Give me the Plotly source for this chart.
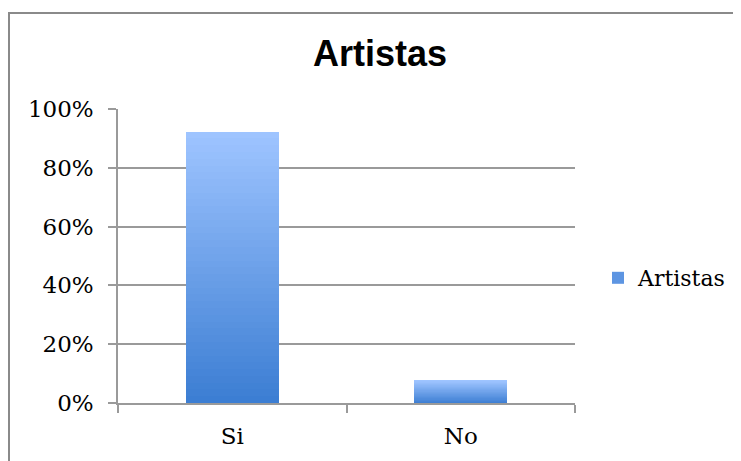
import plotly.graph_objects as go

categories = ["Si", "No"]
values = [0.923, 0.077]
series_name = "Artistas"
tick_vals = [0, 0.2, 0.4, 0.6, 0.8, 1.0]
tick_text = ["0%", "20%", "40%", "60%", "80%", "100%"]

top_rgb = (158, 196, 255)
bottom_rgb = (60, 126, 211)
N = 40

fig = go.Figure()
for i in range(N):
    t = i / (N - 1)
    c = tuple(round(bottom_rgb[k] + (top_rgb[k] - bottom_rgb[k]) * t) for k in range(3))
    fig.add_trace(go.Bar(
        x=categories,
        y=[v / N for v in values],
        marker=dict(color="rgb(%d,%d,%d)" % c, line=dict(width=0)),
        name=series_name,
        legendgroup="a",
        showlegend=(i == N // 3),
        hoverinfo="skip",
    ))

# page is offset by 8px body margin
OFF = 8
W, H = 741, 461
L, T = 118 - OFF, 109 - OFF
pw, ph = 457, 294
R, B = W - L - pw, H - T - ph

fig.update_layout(
    width=W, height=H,
    margin=dict(l=L, r=R, t=T, b=B),
    barmode="stack", bargap=0.593,
    paper_bgcolor="white", plot_bgcolor="white",
    title=dict(text="<b>Artistas</b>", x=(380 - OFF) / W, xanchor="center",
               y=1 - (53 - OFF) / H, yanchor="middle",
               font=dict(family="Liberation Sans, Arial", size=36, color="black")),
    font=dict(family="DejaVu Serif, serif", size=23, color="black"),
    legend=dict(x=(598 - OFF - L) / pw, y=(1 - (278 - OFF - T) / ph), yanchor="middle", xanchor="left",
                font=dict(family="DejaVu Serif, serif", size=22, color="black"),
                bgcolor="rgba(0,0,0,0)"),
    xaxis=dict(showline=True, linecolor="#9a9a9a", linewidth=1.5, ticks="outside",
               tickson="boundaries", ticklen=8, tickcolor="#9a9a9a", tickwidth=1.5,
               showgrid=False, fixedrange=True, ticklabelstandoff=12),
    yaxis=dict(range=[0, 1.0], tickvals=tick_vals, ticktext=tick_text,
               showline=True, linecolor="#9a9a9a", linewidth=1.5, ticks="outside",
               ticklen=8, tickcolor="#9a9a9a", tickwidth=1.5,
               showgrid=True, gridcolor="#9a9a9a", gridwidth=1.5, zeroline=False,
               ticklabelstandoff=10),
    shapes=[dict(type="rect", xref="paper", yref="paper",
                 x0=(8 - OFF + 1 - L) / pw, x1=(W + 5 - L) / pw,
                 y0=-(B + 5) / ph, y1=1 + (T - (13 - OFF)) / ph,
                 line=dict(color="#8a8a8a", width=2), fillcolor="rgba(0,0,0,0)", layer="below")],
)
fig.write_html("out.html")
